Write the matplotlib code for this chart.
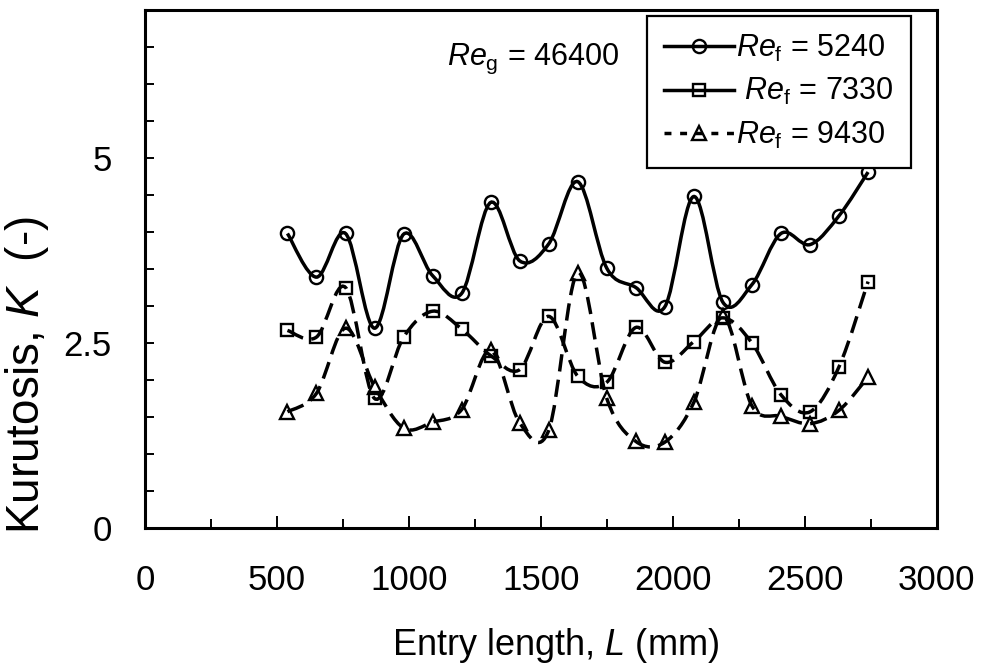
import numpy as np
import matplotlib
matplotlib.use('Agg')
import matplotlib.pyplot as plt
from matplotlib.path import Path
from matplotlib.patches import PathPatch
from matplotlib.lines import Line2D
from matplotlib.ticker import MultipleLocator, FixedLocator

plt.rcParams['font.family'] = ['Liberation Sans', 'DejaVu Sans']
plt.rcParams['mathtext.fontset'] = 'custom'
plt.rcParams['mathtext.rm'] = 'Liberation Sans'
plt.rcParams['mathtext.it'] = 'Liberation Sans:italic'

# Entry length positions (mm)
L = [540, 650, 760, 870, 980, 1090, 1200, 1310, 1420, 1530, 1640,
     1750, 1860, 1970, 2080, 2190, 2300, 2410, 2520, 2630, 2740]

# Kurtosis for each liquid Reynolds number
K_5240 = [3.98, 3.39, 3.98, 2.70, 3.97, 3.41, 3.17, 4.40, 3.61, 3.84, 4.68,
          3.51, 3.25, 2.99, 4.48, 3.05, 3.29, 3.98, 3.83, 4.22, 4.81]
K_7330 = [2.67, 2.58, 3.25, 1.75, 2.58, 2.93, 2.69, 2.33, 2.14, 2.86, 2.05,
          1.97, 2.71, 2.24, 2.52, 2.84, 2.50, 1.80, 1.57, 2.18, 3.33]
K_9430 = [1.57, 1.82, 2.70, 1.91, 1.35, 1.43, 1.60, 2.40, 1.42, 1.32, 3.45,
          1.75, 1.17, 1.16, 1.70, 2.86, 1.65, 1.51, 1.41, 1.59, 2.04]

labels = [r'$\mathit{Re}_{\mathrm{f}}$ = 5240',
          r' $\mathit{Re}_{\mathrm{f}}$ = 7330',
          r'$\mathit{Re}_{\mathrm{f}}$ = 9430']


def smooth_path(x, y):
    # cubic bezier through every point (spreadsheet-style smoothed line)
    pts = np.column_stack([x, y]).astype(float)
    n = len(pts)
    verts = [pts[0]]
    codes = [Path.MOVETO]
    for i in range(n - 1):
        p0 = pts[max(i - 1, 0)]
        p1 = pts[i]
        p2 = pts[i + 1]
        p3 = pts[min(i + 2, n - 1)]
        verts += [p1 + (p2 - p0) / 6, p2 - (p3 - p1) / 6, p2]
        codes += [Path.CURVE4] * 3
    return Path(verts, codes)


fig = plt.figure(figsize=(9.86, 6.68), dpi=100)
ax = fig.add_axes([0.147, 0.2096, 0.803, 0.7754])

lw = 2.5
series = [
    (K_5240, 'o', 9.5, '-'),
    (K_7330, 's', 8.8, (0, (5.0, 2.4))),
    (K_9430, '^', 9.5, (0, (5.0, 2.4))),
]
for ys, mk, ms, ls in series:
    patch = PathPatch(smooth_path(L, ys), fill=False, edgecolor='black',
                      linewidth=lw, linestyle=ls, capstyle='butt')
    ax.add_patch(patch)
    ax.plot(L, ys, linestyle='none', marker=mk, markersize=ms,
            markerfacecolor='none', markeredgecolor='black',
            markeredgewidth=1.7)

ax.set_xlim(0, 3000)
ax.set_ylim(0, 7)

ax.xaxis.set_major_locator(MultipleLocator(500))
ax.xaxis.set_minor_locator(MultipleLocator(250))
ax.yaxis.set_major_locator(FixedLocator([0, 2.5, 5]))
ax.yaxis.set_minor_locator(MultipleLocator(0.5))
ax.set_yticklabels(['0', '2.5', '5'])

ax.tick_params(axis='x', which='major', direction='in', length=8.5, width=1.4,
               labelsize=25, pad=26)
ax.tick_params(axis='x', which='minor', direction='in', length=6.5, width=1.4)
ax.tick_params(axis='y', which='both', direction='in', length=6.5, width=1.4,
               labelsize=25, pad=24)
for s in ax.spines.values():
    s.set_linewidth(2.2)

ax.set_xlabel('Entry length, $\\mathit{L}$ (mm)', fontsize=26)
ax.set_ylabel('Kurutosis, $\\mathit{K}$  (-)', fontsize=33)
ax.xaxis.set_label_coords(0.519, -0.19)
ax.yaxis.set_label_coords(-0.119, 0.296)

ax.text(0.381, 0.894, r'$\mathit{Re}_{\mathrm{g}}$ = 46400', fontsize=22,
        transform=ax.transAxes, va='baseline', ha='left')

handles = [
    Line2D([], [], color='black', lw=lw, marker='o', ms=9.5,
           mfc='none', mec='black', mew=1.7),
    Line2D([], [], color='black', lw=lw, marker='s', ms=8.8,
           mfc='none', mec='black', mew=1.7),
    Line2D([], [], color='black', lw=lw, ls=(0, (2, 2.5)), marker='^', ms=9.5,
           mfc='none', mec='black', mew=1.7),
]
leg = ax.legend(handles, labels, loc='upper right',
                bbox_to_anchor=(0.967, 0.988), borderaxespad=0,
                fontsize=22, handlelength=2.3, handletextpad=0.05,
                labelspacing=0.4, borderpad=0.55, fancybox=False,
                framealpha=1, edgecolor='black')
leg.get_frame().set_linewidth(1.6)

fig.savefig('out.png', dpi=100)
